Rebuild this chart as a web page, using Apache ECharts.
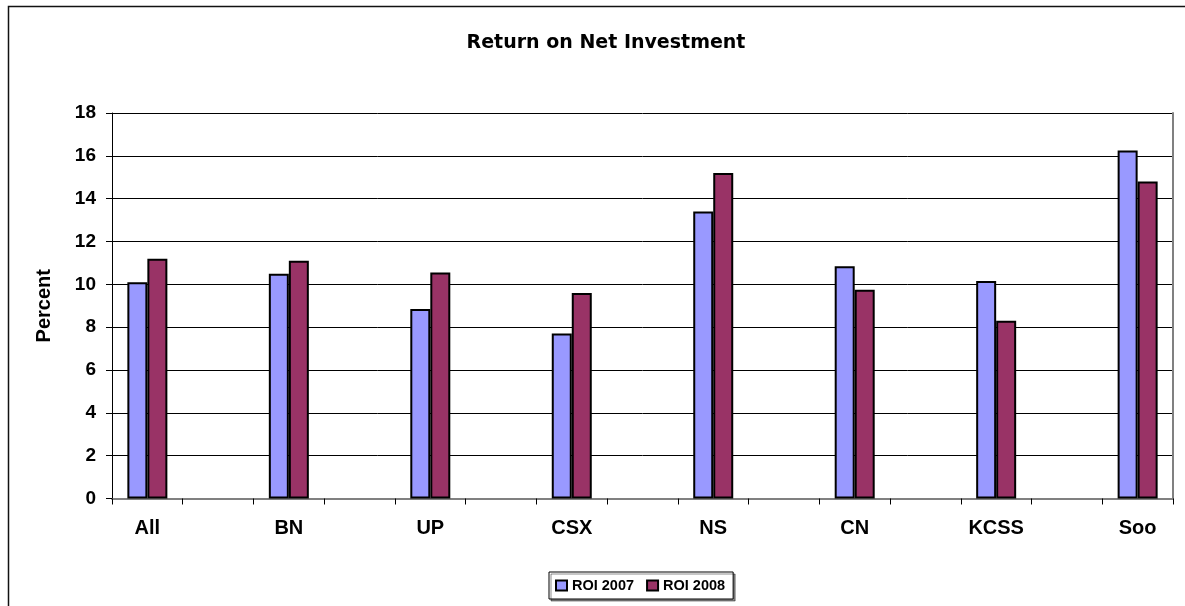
<!DOCTYPE html>
<html>
<head>
<meta charset="utf-8">
<title>Return on Net Investment</title>
<script src="https://cdn.jsdelivr.net/npm/echarts@6/dist/echarts.min.js"></script>
<style>
    html, body {margin: 0; padding: 0; background: #fff;}
    #chart {width: 1185px; height: 606px;}
</style>
</head>
<body>
<div id="chart"></div>
<script>
/*数据*/
let railroads = ['All', 'BN', 'UP', 'CSX', 'NS', 'CN', 'KCSS', 'Soo'];
let roi2007 = [10.1, 10.5, 8.85, 7.7, 13.4, 10.85, 10.15, 16.25];
let roi2008 = [11.2, 11.1, 10.55, 9.6, 15.2, 9.75, 8.3, 14.8];
let yTicks = [0, 2, 4, 6, 8, 10, 12, 14, 16, 18];

/*
* 每两个公司之间空一格，和原图一样
* */
let spread = (arr, blank) => {
    let out = [];
    arr.forEach((v, i) => {
        if (i > 0) out.push(blank);
        out.push(v);
    });
    return out;
}

let cats = spread(railroads, '');
let data2007 = spread(roi2007, '-');
let data2008 = spread(roi2008, '-');

let myChart = echarts.init(document.getElementById('chart'));

let bold = {fontFamily: '"Liberation Sans", Arial, sans-serif', fontWeight: 'bold', color: '#000'};

let option = {
    animation: false,
    title: {
        text: 'Return on Net Investment',
        left: 601,
        top: 29,
        textAlign: 'center',
        textStyle: {fontFamily: '"DejaVu Sans", sans-serif', fontWeight: 'bold', fontSize: 19, color: '#000'}
    },
    legend: {
        data: ['ROI 2007', 'ROI 2008'],
        left: 549,
        top: 572,
        icon: 'rect',
        itemWidth: 11,
        itemHeight: 10,
        itemGap: 12,
        padding: [6, 8, 6, 6],
        borderColor: '#000',
        borderWidth: 1,
        backgroundColor: '#fff',
        shadowColor: 'rgba(0,0,0,0.45)',
        shadowOffsetX: 2,
        shadowOffsetY: 2,
        textStyle: Object.assign({fontSize: 14.5}, bold)
    },
    grid: {
        left: 112,
        top: 113,
        right: 12,
        bottom: 107.5,
        outerBoundsMode: 'none'
    },
    graphic: [
        {
            type: 'rect',
            silent: true,
            shape: {x: 8.5, y: 6.5, width: 1300, height: 800},
            style: {fill: 'none', stroke: '#111', lineWidth: 1.5}
        }
    ],
    xAxis: [
        {
            type: 'category',
            data: cats,
            boundaryGap: true,
            axisLine: {lineStyle: {color: '#000', width: 1}},
            axisTick: {show: true, interval: 0, length: 6, lineStyle: {color: '#000'}},
            axisLabel: Object.assign({interval: 0, fontSize: 20, margin: 20}, bold)
        },
        {
            type: 'category',
            position: 'top',
            data: cats,
            axisLine: {lineStyle: {color: '#808080', width: 2}},
            axisTick: {show: false},
            axisLabel: {show: false}
        }
    ],
    yAxis: [
        {
            type: 'value',
            min: yTicks[0],
            max: yTicks[yTicks.length - 1],
            interval: 2,
            name: 'Percent',
            nameLocation: 'middle',
            nameGap: 58,
            nameTextStyle: Object.assign({fontSize: 20}, bold),
            axisLine: {show: true, lineStyle: {color: '#000', width: 1}},
            axisTick: {show: true, length: 6, lineStyle: {color: '#000'}},
            axisLabel: Object.assign({fontSize: 19, margin: 16}, bold),
            splitLine: {show: true, lineStyle: {color: '#000', width: 1}}
        },
        {
            type: 'value',
            position: 'right',
            min: yTicks[0],
            max: yTicks[yTicks.length - 1],
            interval: 2,
            axisLine: {show: true, lineStyle: {color: '#808080', width: 2}},
            axisTick: {show: false},
            axisLabel: {show: false},
            splitLine: {show: false}
        }
    ],
    series: [
        {
            name: 'ROI 2007',
            type: 'bar',
            data: data2007,
            barWidth: 20,
            barGap: '0%',
            itemStyle: {color: '#9999FF', borderColor: '#000', borderWidth: 2}
        },
        {
            name: 'ROI 2008',
            type: 'bar',
            data: data2008,
            barWidth: 20,
            barGap: '0%',
            itemStyle: {color: '#993366', borderColor: '#000', borderWidth: 2}
        }
    ]
};

myChart.setOption(option);
</script>
</body>
</html>
